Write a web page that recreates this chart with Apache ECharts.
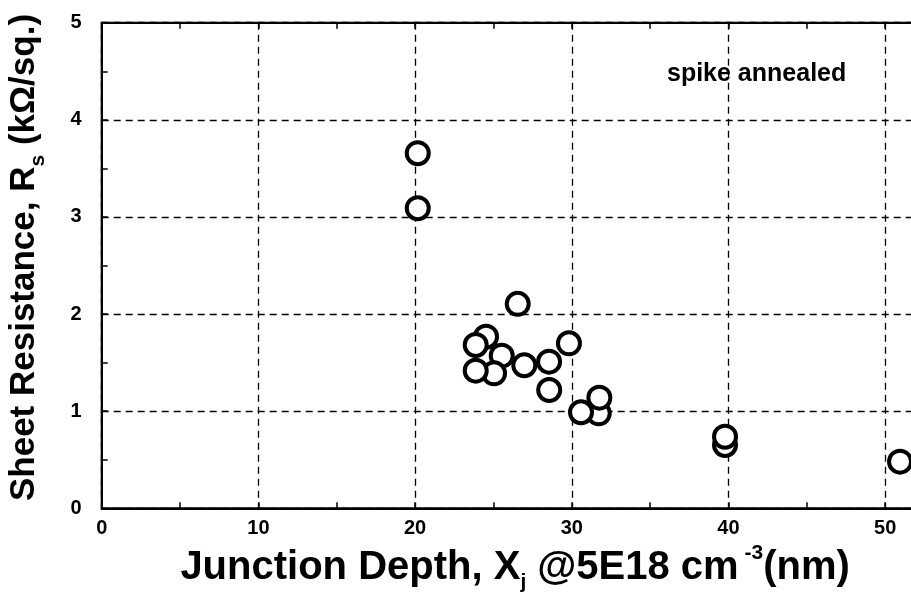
<!DOCTYPE html>
<html>
<head>
<meta charset="utf-8">
<script src="https://cdn.jsdelivr.net/npm/echarts@6/dist/echarts.min.js"></script>
<style>
html,body{margin:0;padding:0;background:#fff;}
#chart{width:911px;height:600px;}
</style>
</head>
<body>
<div id="chart"></div>
<script>
// Junction depth X_j (nm) and sheet resistance R_s (kOhm/sq.)
var junctionDepth = [20.17, 20.17, 26.55, 24.53, 23.87, 25.53, 25.04, 23.87, 26.97, 28.55, 29.82, 28.56, 31.72, 31.76, 30.59, 39.78, 39.78, 50.95];
var sheetResistance = [3.656, 3.09, 2.105, 1.767, 1.682, 1.572, 1.39, 1.417, 1.473, 1.51, 1.699, 1.218, 0.978, 1.139, 0.989, 0.652, 0.737, 0.48];
var xTicks = [0, 10, 20, 30, 40, 50];
var yTicks = [0, 1, 2, 3, 4, 5];
var annotationText = 'spike annealed';

var FONT = '"Liberation Sans", Arial, Helvetica, sans-serif';
var points = junctionDepth.map(function (x, i) { return [x, sheetResistance[i]]; });

var chart = echarts.init(document.getElementById('chart'), null, {renderer: 'canvas'});
var dashed = {show: true, lineStyle: {color: '#000', width: 1.3, type: [7, 5]}};
var tickFmtX = function (v) { return xTicks.indexOf(v) >= 0 ? String(v) : ''; };
var tickFmtY = function (v) { return yTicks.indexOf(v) >= 0 ? String(v) : ''; };

chart.setOption({
  animation: false,
  backgroundColor: '#fff',
  grid: {left: 101.7, top: 22.7, width: 814.8, height: 485.6, show: true, borderColor: '#000', borderWidth: 2, containLabel: false, outerBoundsMode: 'none'},
  xAxis: [{
    type: 'value', min: 0, max: 52, interval: 10, position: 'bottom',
    axisLine: {show: true, onZero: false, lineStyle: {color: '#000', width: 2}},
    axisTick: {show: true, inside: true, length: 6, lineStyle: {color: '#000', width: 1.5}},
    minorTick: {show: true, splitNumber: 2, length: 6, lineStyle: {color: '#000', width: 1.5}},
    splitLine: dashed,
    axisLabel: {formatter: tickFmtX, color: '#000', fontFamily: FONT, fontWeight: 'bold', fontSize: 20, margin: 10},
    name: '{m|Junction Depth, X}{sub|j}{m| @5E18 cm}{sup| -3}{m|(nm)}',
    nameLocation: 'middle', nameGap: 33,
    nameTextStyle: {
      color: '#000',
      padding: [0, 0, 0, 12],
      rich: {
        m: {fontFamily: FONT, fontWeight: 'bold', fontSize: 40, lineHeight: 50, color: '#000'},
        sub: {fontFamily: FONT, fontWeight: 'bold', fontSize: 21, lineHeight: 21, verticalAlign: 'bottom', color: '#000'},
        sup: {fontFamily: FONT, fontWeight: 'bold', fontSize: 21, lineHeight: 21, verticalAlign: 'top', color: '#000'}
      }
    }
  }, {
    type: 'value', min: 0, max: 52, interval: 10, position: 'top',
    axisLine: {show: true, onZero: false, lineStyle: {color: '#000', width: 2}},
    axisTick: {show: true, inside: true, length: 6, lineStyle: {color: '#000', width: 1.5}},
    minorTick: {show: true, splitNumber: 2, length: 6, lineStyle: {color: '#000', width: 1.5}},
    splitLine: {show: false},
    axisLabel: {show: false}
  }],
  yAxis: [{
    type: 'value', min: 0, max: 5, interval: 1,
    axisLine: {show: true, onZero: false, lineStyle: {color: '#000', width: 2}},
    axisTick: {show: true, inside: true, length: 6, lineStyle: {color: '#000', width: 1.5}},
    minorTick: {show: true, splitNumber: 2, length: 6, lineStyle: {color: '#000', width: 1.5}},
    splitLine: dashed,
    axisLabel: {formatter: tickFmtY, color: '#000', fontFamily: FONT, fontWeight: 'bold', fontSize: 20, margin: 20},
    name: '{m|Sheet Resistance, R}{sub|s}{m| (kΩ/sq.)}',
    nameLocation: 'middle', nameGap: 53,
    nameTextStyle: {
      color: '#000',
      padding: [0, 0, 0, 16],
      rich: {
        m: {fontFamily: FONT, fontWeight: 'bold', fontSize: 35, lineHeight: 48, color: '#000'},
        sub: {fontFamily: FONT, fontWeight: 'bold', fontSize: 21, lineHeight: 21, verticalAlign: 'bottom', color: '#000'}
      }
    }
  }],
  graphic: [{
    type: 'text', left: 667, top: 62, z: 100,
    style: {text: annotationText, fill: '#000', font: 'bold 25px ' + FONT}
  }],
  series: [{
    type: 'scatter',
    data: points,
    symbol: 'circle',
    symbolSize: 22,
    clip: false,
    itemStyle: {color: '#fff', borderColor: '#000', borderWidth: 4, opacity: 1},
    emphasis: {disabled: true}
  }]
});
</script>
</body>
</html>
